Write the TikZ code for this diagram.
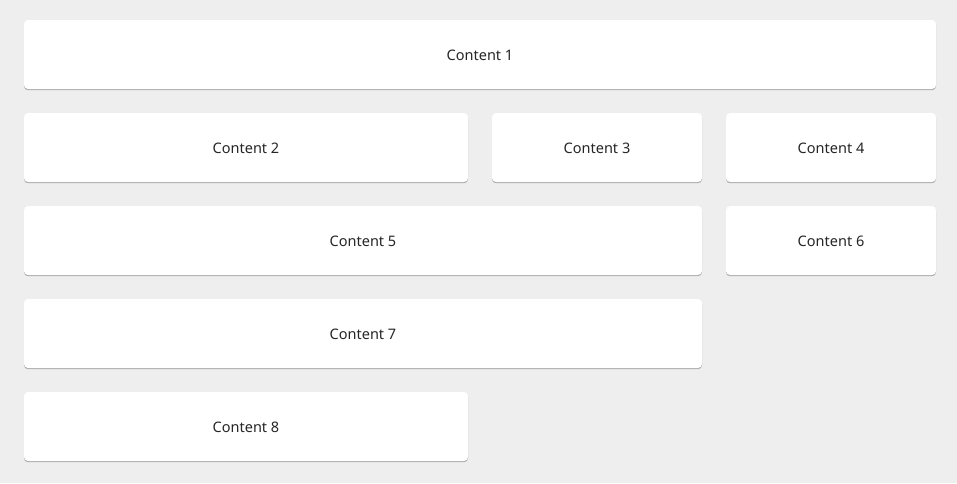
\documentclass[tikz,border=0pt]{standalone}
\usepackage{fontspec}
\setmainfont{Noto Sans}
\usetikzlibrary{shadows}

\definecolor{pagebg}{HTML}{EEEEEE}
\definecolor{cardtext}{HTML}{262626}

\begin{document}
\begin{tikzpicture}[x=1pt,y=-1pt,
  card/.style={fill=white, rounded corners=4pt, minimum height=69pt, inner sep=0pt,
    text=cardtext, font=\fontsize{14.5}{17}\selectfont, text height=12pt, text depth=0pt,
    drop shadow={shadow xshift=0pt, shadow yshift=-1.2pt, fill=black!55, opacity=0.55}},
  wide/.style={card, minimum width=912pt},
  half/.style={card, minimum width=444pt},
  part/.style={card, minimum width=678pt},
  small/.style={card, minimum width=210pt}]
\fill [pagebg] (0,0) rectangle (957,483);
\useasboundingbox (0,0) rectangle (957,483);
% row 1
\node [wide] (c1) at (480,54.5) {Content 1};
% row 2
\node [half] (c2) at (246,147.5) {Content 2};
\node [small] (c3) at (597,147.5) {Content 3};
\node [small] (c4) at (831,147.5) {Content 4};
% row 3
\node [part] (c5) at (363,240.5) {Content 5};
\node [small] (c6) at (831,240.5) {Content 6};
% rows 4 and 5
\node [part] (c7) at (363,333.5) {Content 7};
\node [half] (c8) at (246,426.5) {Content 8};
\end{tikzpicture}
\end{document}
